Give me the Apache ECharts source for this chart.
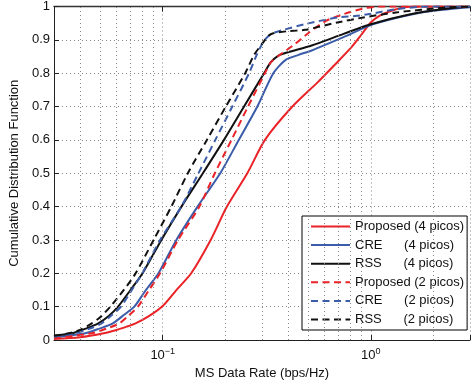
<!DOCTYPE html>
<html>
<head>
<meta charset="utf-8">
<script src="https://cdn.jsdelivr.net/npm/echarts@6/dist/echarts.min.js"></script>
<style>
html,body{margin:0;padding:0;background:#fff;}
#c{width:473px;height:385px;}
</style>
</head>
<body>
<div id="c"></div>
<script>
// ---- data: [rate (bps/Hz), CDF] ----
const proposed4 = [[0.03,0.003],[0.04,0.008],[0.052,0.02],[0.06,0.03],[0.067,0.04],[0.074,0.05],[0.085,0.07],[0.1,0.102],[0.116,0.149],[0.137,0.2],[0.17,0.3],[0.2035,0.4],[0.255,0.5],[0.31,0.6],[0.42,0.7],[0.558,0.774],[0.69,0.833],[0.8,0.875],[0.9,0.915],[1.0,0.952],[1.1,0.972],[1.23,0.985],[1.43,0.997],[1.7,1.0],[3,1]];
const cre4 = [[0.03,0.008],[0.0424,0.02],[0.05,0.035],[0.0576,0.05],[0.065,0.075],[0.073,0.1],[0.083,0.15],[0.0954,0.2],[0.1163,0.3],[0.147,0.4],[0.189,0.5],[0.232,0.6],[0.285,0.7],[0.34,0.8],[0.39,0.84],[0.45,0.855],[0.52,0.868],[0.74,0.908],[1.03,0.947],[1.59,0.977],[2.2,0.99],[3,0.998]];
const rss4 = [[0.03,0.013],[0.0366,0.02],[0.043,0.035],[0.049,0.05],[0.055,0.072],[0.061,0.1],[0.07,0.15],[0.08,0.2],[0.0985,0.3],[0.123,0.4],[0.156,0.5],[0.197,0.6],[0.246,0.7],[0.307,0.8],[0.331,0.833],[0.36,0.853],[0.40,0.863],[0.52,0.883],[0.74,0.918],[1.0,0.947],[1.55,0.977],[2.2,0.992],[3,1]];
const proposed2 = [[0.03,0.006],[0.0455,0.02],[0.054,0.035],[0.062,0.05],[0.069,0.075],[0.076,0.1],[0.086,0.15],[0.0971,0.2],[0.1185,0.3],[0.150,0.4],[0.178,0.5],[0.214,0.6],[0.257,0.7],[0.31,0.8],[0.331,0.833],[0.362,0.853],[0.433,0.888],[0.5,0.92],[0.61,0.957],[0.74,0.977],[0.92,0.994],[1.1,1.0],[3,1]];
const cre2 = [[0.03,0.01],[0.038,0.02],[0.045,0.035],[0.0508,0.05],[0.057,0.075],[0.063,0.1],[0.071,0.15],[0.0797,0.2],[0.0971,0.3],[0.1228,0.4],[0.1485,0.5],[0.179,0.6],[0.216,0.7],[0.26,0.8],[0.283,0.855],[0.305,0.895],[0.325,0.913],[0.345,0.922],[0.38,0.93],[0.483,0.947],[0.69,0.967],[0.86,0.972],[1.0,0.978],[1.32,0.992],[1.9,1.0],[3,1]];
const rss2 = [[0.03,0.013],[0.0354,0.02],[0.04,0.03],[0.0456,0.05],[0.05,0.068],[0.056,0.1],[0.065,0.15],[0.0741,0.2],[0.0904,0.3],[0.110,0.4],[0.132,0.5],[0.163,0.6],[0.201,0.7],[0.249,0.8],[0.275,0.855],[0.302,0.89],[0.322,0.912],[0.34,0.92],[0.40,0.926],[0.483,0.93],[0.69,0.952],[0.92,0.967],[1.32,0.982],[2.3,0.997],[3,1]];

const seriesNames = ['Proposed (4 picos)','CRE      (4 picos)','RSS      (4 picos)','Proposed (2 picos)','CRE      (2 picos)','RSS      (2 picos)'];
const minorGridX = [0.04,0.05,0.06,0.07,0.08,0.09,0.2,0.3,0.4,0.5,0.6,0.7,0.8,0.9,2];
const xTickLabels = {'0.1':'{b|10}{s|−1}','1':'{b|10}{s|0}'};

const RED = '#ea2328', BLUE = '#3b5ca9', BLACK = '#111111';
const FONT = 'Liberation Sans';
const DASH = [7,4.5];

function curve(name, data, color, dashed){
  return {
    name: name, type: 'line', data: data, symbol: 'none', smooth: 0.25,
    z: 3, lineStyle: {color: color, width: 2, type: dashed ? DASH : 'solid'},
    itemStyle: {color: color}
  };
}

const chart = echarts.init(document.getElementById('c'), null, {renderer: 'canvas'});
const option = {
  animation: false,
  textStyle: {fontFamily: FONT},
  grid: {left: 49, top: 4, width: 426.6, height: 336},
  legend: {
    data: seriesNames, orient: 'vertical', left: 302, top: 216,
    padding: [4, 3, 4, 8], itemWidth: 39, itemHeight: 14, itemGap: 5.6,
    backgroundColor: '#fff', borderColor: '#000', borderWidth: 1, borderRadius: 0,
    itemStyle: {opacity: 0},
    textStyle: {fontSize: 13, color: '#111', fontFamily: FONT},
    selectedMode: false
  },
  xAxis: [{
    type: 'log', logBase: 10, min: 0.03, max: 3,
    name: 'MS Data Rate (bps/Hz)', nameLocation: 'middle', nameGap: 27,
    nameTextStyle: {fontSize: 13, color: '#111', fontFamily: FONT},
    axisLine: {lineStyle: {color: '#222', width: 1}},
    axisTick: {inside: true, length: 5, lineStyle: {color: '#222'}},
    axisLabel: {
      margin: 7, color: '#111', fontFamily: FONT,
      formatter: function(v){
        for (const k in xTickLabels) { if (Math.abs(v - parseFloat(k)) < 1e-9) return xTickLabels[k]; }
        return '';
      },
      rich: {b: {fontSize: 13, color: '#111', fontFamily: FONT}, s: {fontSize: 9, color: '#111', fontFamily: FONT, padding: [0,0,7,0]}}
    },
    splitLine: {show: true, lineStyle: {color: '#888', width: 1, type: [1,3]}}
  },{
    type: 'log', logBase: 10, min: 0.03, max: 3, position: 'top',
    axisLine: {show: true, lineStyle: {color: '#333', width: 1.3}},
    axisTick: {show: true, inside: true, length: 5, lineStyle: {color: '#222'}},
    axisLabel: {show: false}, splitLine: {show: false}
  }],
  yAxis: [{
    type: 'value', min: 0, max: 1, interval: 0.1,
    name: 'Cumulative Distribution Function', nameLocation: 'middle', nameGap: 24,
    nameTextStyle: {fontSize: 13, color: '#111', fontFamily: FONT},
    axisLine: {show: true, lineStyle: {color: '#222', width: 1}},
    axisTick: {show: true, inside: true, length: 5, lineStyle: {color: '#222'}},
    axisLabel: {fontSize: 13, color: '#111', margin: 4, fontFamily: FONT},
    splitLine: {show: true, lineStyle: {color: '#888', width: 1, type: [1,3]}}
  }],
  series: [
    {
      name: 'minorGrid', type: 'line', data: [], symbol: 'none', silent: true, z: 1,
      markLine: {
        silent: true, symbol: ['none','none'], label: {show: false}, animation: false,
        lineStyle: {color: '#888', width: 1, type: [1,3]},
        data: minorGridX.map(function(v){ return {xAxis: v}; })
      }
    },
    curve(seriesNames[0], proposed4, RED, false),
    curve(seriesNames[1], cre4, BLUE, false),
    curve(seriesNames[2], rss4, BLACK, false),
    curve(seriesNames[3], proposed2, RED, true),
    curve(seriesNames[4], cre2, BLUE, true),
    curve(seriesNames[5], rss2, BLACK, true)
  ]
};
chart.setOption(option);
</script>
</body>
</html>
